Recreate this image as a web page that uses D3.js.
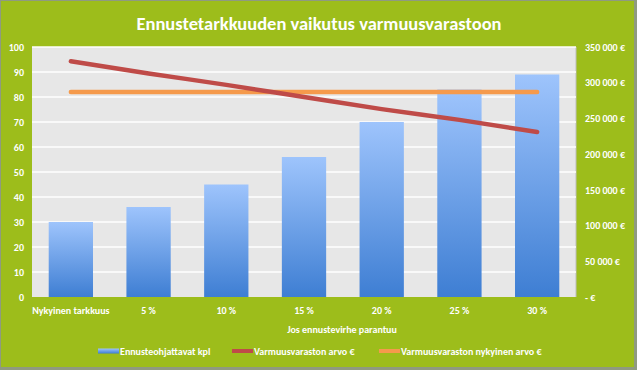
<!DOCTYPE html>
<html><head><meta charset="utf-8">
<script src="https://cdn.jsdelivr.net/npm/d3@7"></script>
<style>body{margin:0;padding:0;}svg{display:block;}text{font-family:Calibri,"Carlito","Liberation Sans","DejaVu Sans",sans-serif;}</style>
</head><body>
<script>
const title = "Ennustetarkkuuden vaikutus varmuusvarastoon";
const categories = ["Nykyinen tarkkuus","5 %","10 %","15 %","20 %","25 %","30 %"];
const barValues = [30, 36, 45, 56, 70, 83, 89];
const safetyStockValue = [330000, 313000, 297000, 280000, 263000, 248000, 231000];
const currentValue = [287000, 287000, 287000, 287000, 287000, 287000, 287000];
const leftTicks = [0,10,20,30,40,50,60,70,80,90,100];
const rightTicks = [0,50000,100000,150000,200000,250000,300000,350000];
const seriesNames = ["Ennusteohjattavat kpl","Varmuusvaraston arvo €","Varmuusvaraston nykyinen arvo €"];
const xTitle = "Jos ennustevirhe parantuu";

const W=637,H=370;
const m={l:32,r:576,t:47,b:297};
const green="#9DBD1B";
const svg=d3.select("body").append("svg").attr("width",W).attr("height",H);
svg.append("rect").attr("x",0).attr("y",0).attr("width",W).attr("height",H).attr("fill","#8f9a80");
svg.append("rect").attr("x",1).attr("y",1).attr("width",W-4).attr("height",H-4).attr("fill",green);

const defs=svg.append("defs");
const gr=defs.append("linearGradient").attr("id","bg").attr("x1",0).attr("y1",0).attr("x2",0).attr("y2",1);
gr.append("stop").attr("offset","0%").attr("stop-color","#9EC4FC");
gr.append("stop").attr("offset","100%").attr("stop-color","#3E7ED3");

const x=d3.scaleBand().domain(categories).range([m.l,m.r]).paddingInner(0.43).paddingOuter(0.215);
const yL=d3.scaleLinear().domain([0,100]).range([m.b,m.t]);
const yR=d3.scaleLinear().domain([0,350000]).range([m.b,m.t]);

svg.append("rect").attr("x",m.l).attr("y",m.t).attr("width",m.r-m.l).attr("height",m.b-m.t).attr("fill","#E7E7E7");
svg.append("line").attr("x1",m.r).attr("x2",m.r).attr("y1",m.t).attr("y2",m.b).attr("stroke","#bdbdbd").attr("stroke-width",1);

// gridlines
svg.append("g").selectAll("line").data(leftTicks.filter(d=>d>0)).join("line")
  .attr("x1",m.l).attr("x2",m.r).attr("y1",d=>yL(d)).attr("y2",d=>yL(d))
  .attr("stroke","#fff").attr("stroke-width",1.5);

// bars
svg.append("g").selectAll("rect").data(barValues).join("rect")
  .attr("x",(d,i)=>x(categories[i])).attr("width",x.bandwidth())
  .attr("y",d=>yL(d)).attr("height",d=>m.b-yL(d)).attr("fill","url(#bg)");

// lines
const xc=i=>x(categories[i])+x.bandwidth()/2;
const line=d3.line().x((d,i)=>xc(i)).y(d=>yR(d)).curve(d3.curveMonotoneX);
svg.append("path").datum(currentValue).attr("d",line).attr("fill","none").attr("stroke","#F59A4C").attr("stroke-width",4.5).attr("stroke-linecap","round");
svg.append("path").datum(safetyStockValue).attr("d",line).attr("fill","none").attr("stroke","#BF4B48").attr("stroke-width",4.5).attr("stroke-linecap","round");

// axes
const axL=d3.axisLeft(yL).tickValues(leftTicks).tickSize(0).tickPadding(8);
const gL=svg.append("g").attr("transform",`translate(${m.l},0)`).call(axL);
gL.select(".domain").remove();
gL.selectAll("text").attr("fill","#fff").attr("font-size",10).attr("font-weight","bold");

const fmtR=d=>d===0?"- €":d3.format(",")(d).replace(/,/g," ")+" €";
const axR=d3.axisRight(yR).tickValues(rightTicks).tickFormat(fmtR).tickSize(0).tickPadding(9);
const gR=svg.append("g").attr("transform",`translate(${m.r},0)`).call(axR);
gR.select(".domain").remove();
gR.selectAll("text").attr("fill","#fff").attr("font-size",10).attr("font-weight","bold");

const axB=d3.axisBottom(x).tickSize(0).tickPadding(10);
const gB=svg.append("g").attr("transform",`translate(0,${m.b})`).call(axB);
gB.select(".domain").remove();
gB.selectAll("text").attr("fill","#fff").attr("font-size",10).attr("font-weight","bold");

svg.append("text").attr("x",342).attr("y",333).attr("text-anchor","middle")
  .attr("fill","#fff").attr("font-size",10).attr("font-weight","bold").text(xTitle);

svg.append("text").attr("x",319).attr("y",30).attr("text-anchor","middle")
  .attr("fill","#fff").attr("font-size",18.5).attr("font-weight","bold").text(title);

// legend
const legend=[{x:98,c:"url(#bg)",h:5},{x:232,c:"#BF4B48",h:4},{x:379,c:"#F59A4C",h:4}];
const lg=svg.append("g");
legend.forEach((d,i)=>{
  lg.append("rect").attr("x",d.x).attr("y",351-d.h/2).attr("width",21).attr("height",d.h).attr("fill",d.c);
  lg.append("text").attr("x",d.x+22).attr("y",355).attr("fill","#fff").attr("font-size",10).attr("font-weight","bold").text(seriesNames[i]);
});
</script>
</body></html>
